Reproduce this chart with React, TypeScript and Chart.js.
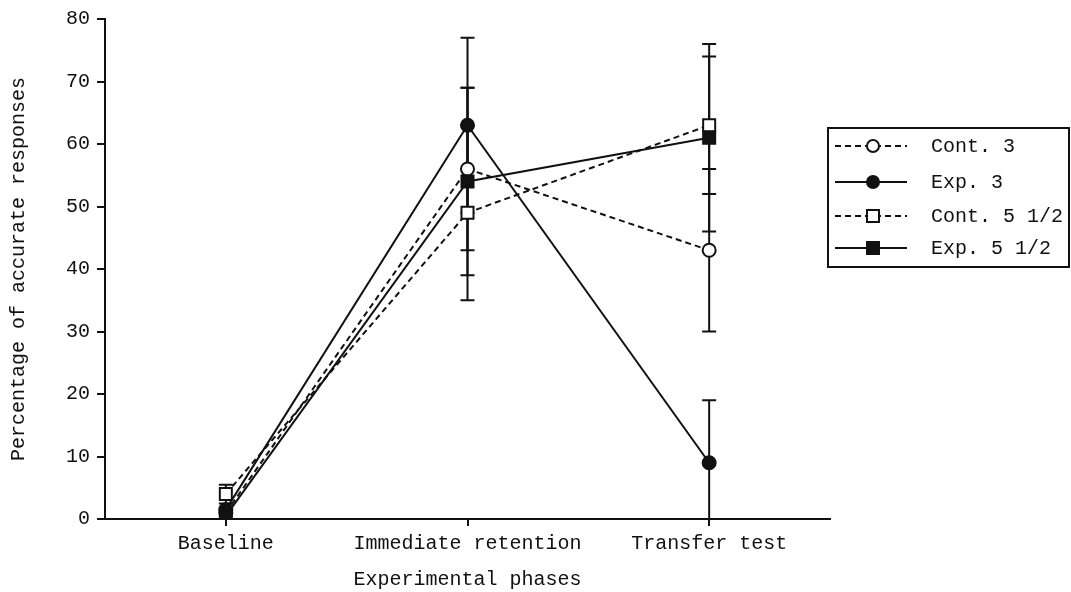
import React, { useEffect, useRef } from "react";
import { Chart, registerables } from "chart.js";

Chart.register(...registerables);

const categories = ["Baseline", "Immediate retention", "Transfer test"];
const yTicks = [0, 10, 20, 30, 40, 50, 60, 70, 80];

const cont3 = [1, 56, 43];
const cont3Err = [0, 13, 13];
const exp3 = [1.5, 63, 9];
const exp3Err = [0, 14, 10];
const cont55 = [4, 49, 63];
const cont55Err = [1.5, 14, 11];
const exp55 = [0.5, 54, 61];
const exp55Err = [0, 15, 15];

const seriesNames = ["Cont. 3", "Exp. 3", "Cont. 5 1/2", "Exp. 5 1/2"];

const FONT = "'Courier New', 'Liberation Mono', monospace";

type S = { name: string; data: number[]; err: number[]; dashed: boolean; style: string; filled: boolean; r: number; order: number };
const series: S[] = [
  { name: seriesNames[0], data: cont3, err: cont3Err, dashed: true, style: "circle", filled: false, r: 6.5, order: 3 },
  { name: seriesNames[1], data: exp3, err: exp3Err, dashed: false, style: "circle", filled: true, r: 6.5, order: 1 },
  { name: seriesNames[2], data: cont55, err: cont55Err, dashed: true, style: "rect", filled: false, r: 8.5, order: 2 },
  { name: seriesNames[3], data: exp55, err: exp55Err, dashed: false, style: "rect", filled: true, r: 8.5, order: 0 },
];

const errorBarPlugin = {
  id: "errorBars",
  beforeDatasetsDraw(chart: any) {
    const { ctx, chartArea, scales } = chart;
    const x = scales.x;
    const y = scales.y;
    ctx.save();
    ctx.beginPath();
    ctx.rect(chartArea.left - 20, chartArea.top - 20, chartArea.right - chartArea.left + 40, chartArea.bottom - chartArea.top + 20);
    ctx.clip();
    ctx.strokeStyle = "#111";
    ctx.lineWidth = 2;
    series.forEach((s) => {
      s.data.forEach((v, i) => {
        const e = s.err[i];
        if (!e) return;
        const px = x.getPixelForValue(i);
        const top = y.getPixelForValue(v + e);
        const bot = y.getPixelForValue(v - e);
        ctx.beginPath();
        ctx.moveTo(px, top);
        ctx.lineTo(px, bot);
        ctx.moveTo(px - 7, top);
        ctx.lineTo(px + 7, top);
        ctx.moveTo(px - 7, bot);
        ctx.lineTo(px + 7, bot);
        ctx.stroke();
      });
    });
    ctx.restore();
  },
};

const legendPlugin = {
  id: "customLegend",
  afterDraw(chart: any) {
    const { ctx } = chart;
    ctx.save();
    ctx.strokeStyle = "#111";
    ctx.lineWidth = 2;
    ctx.strokeRect(828, 128, 241, 139);
    const rows = [146, 182, 216, 248];
    series.forEach((s, i) => {
      const yy = rows[i];
      ctx.setLineDash(s.dashed ? [6, 4] : []);
      ctx.beginPath();
      ctx.moveTo(835, yy);
      ctx.lineTo(907, yy);
      ctx.stroke();
      ctx.setLineDash([]);
      ctx.fillStyle = s.filled ? "#111" : "#fff";
      ctx.beginPath();
      if (s.style === "circle") {
        ctx.arc(873, yy, 6, 0, Math.PI * 2);
      } else {
        ctx.rect(873 - 6, yy - 6, 12, 12);
      }
      ctx.fill();
      ctx.stroke();
      ctx.fillStyle = "#111";
      ctx.font = `20px ${FONT}`;
      ctx.textBaseline = "middle";
      ctx.textAlign = "left";
      ctx.fillText(s.name, 931, yy + 1);
    });
    ctx.restore();
  },
};

export default function App() {
  const ref = useRef<HTMLCanvasElement | null>(null);
  useEffect(() => {
    document.body.style.margin = "0";
    const canvas = ref.current;
    if (!canvas) return;
    const chart = new Chart(canvas, {
      type: "line",
      data: {
        labels: categories,
        datasets: series.map((s) => ({
          label: s.name,
          data: s.data,
          order: s.order,
          borderColor: "#111",
          borderWidth: 2,
          borderDash: s.dashed ? [6, 4] : [],
          pointStyle: s.style as any,
          pointRadius: s.r,
          pointBackgroundColor: s.filled ? "#111" : "#fff",
          pointBorderColor: "#111",
          pointBorderWidth: 2,
          tension: 0,
          fill: false,
        })),
      },
      options: {
        animation: false,
        responsive: false,
        maintainAspectRatio: false,
        layout: { padding: { left: 0, right: 241, top: 18, bottom: 0 } },
        plugins: { legend: { display: false }, tooltip: { enabled: false } },
        scales: {
          x: {
            type: "category",
            offset: true,
            grid: { display: true, drawOnChartArea: false, offset: false, tickLength: 7, color: "#111", lineWidth: 2 },
            border: { display: true, color: "#111", width: 2 },
            ticks: { color: "#111", font: { family: FONT, size: 20 }, padding: 6, maxRotation: 0 },
            title: { display: true, text: "Experimental phases", color: "#111", font: { family: FONT, size: 20 }, padding: { top: 10, bottom: 0 } },
            afterFit: (s: any) => { s.height = 73; },
          },
          y: {
            type: "linear",
            min: 0,
            max: 80,
            afterBuildTicks: (s: any) => { s.ticks = yTicks.map((v) => ({ value: v })); },
            grid: { display: true, drawOnChartArea: false, tickLength: 8, color: "#111", lineWidth: 2 },
            border: { display: true, color: "#111", width: 2 },
            ticks: { color: "#111", font: { family: FONT, size: 20 }, padding: 7 },
            title: { display: true, text: "Percentage of accurate responses", color: "#111", font: { family: FONT, size: 20 }, padding: { top: 7, bottom: 4 } },
            afterFit: (s: any) => { s.width = 105; },
          },
        },
      },
      plugins: [errorBarPlugin, legendPlugin],
    });
    return () => chart.destroy();
  }, []);
  return (
    <div style={{ width: 1071, height: 592, background: "#fff" }}>
      <canvas ref={ref} width={1071} height={592} style={{ display: "block" }} />
    </div>
  );
}
